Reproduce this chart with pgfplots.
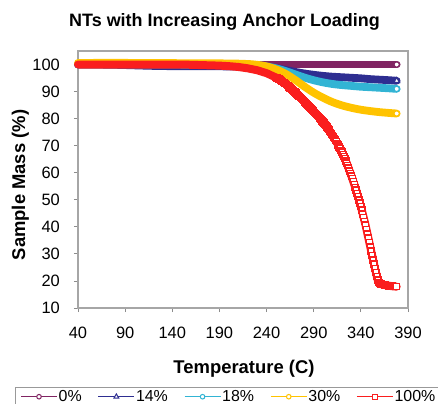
\documentclass[border=0pt]{standalone}
\usepackage{fontspec}
\setmainfont{Liberation Sans}
\usepackage{pgfplots}
\pgfplotsset{compat=1.18}
\usepackage{pgfplotstable}

\definecolor{cA}{RGB}{128,36,98}
\definecolor{cB}{RGB}{46,46,145}
\definecolor{cC}{RGB}{50,180,212}
\definecolor{cD}{RGB}{255,195,0}
\definecolor{cE}{RGB}{250,30,30}

\pgfplotstableread{
T M
40 100
100 100
160 100
220 100
280 100
340 100
378 100
}\tzero

\pgfplotstableread{
T M
40 100
60 100
80 99.9
100 99.7
120 99.5
140 99.4
160 99.4
180 99.4
200 99.3
220 99.3
230 99.2
240 99.0
250 98.6
260 98.0
270 97.3
280 96.7
290 96.2
300 95.8
310 95.5
320 95.3
330 95.1
340 94.9
350 94.6
360 94.4
370 94.2
378 94.0
}\tfourteen

\pgfplotstableread{
T M
40 100
120 100
200 99.9
230 99.7
240 99.3
250 98.6
260 97.6
270 96.4
280 95.2
290 94.2
300 93.4
310 92.8
320 92.4
330 92.1
340 91.8
350 91.6
360 91.4
370 91.2
378 91.0
}\teighteen

\pgfplotstableread{
T M
40 100.6
100 100.6
150 100.5
200 100.4
220 100.2
230 99.9
240 99.3
250 98.2
260 96.6
270 94.4
280 91.9
290 89.6
300 87.7
310 86.1
320 84.9
330 84.0
340 83.3
350 82.8
360 82.4
370 82.1
378 81.9
}\tthirty

\pgfplotstableread{
T M
40 100
100 100
150 100
160 99.9
180 99.7
190 99.6
200 99.4
210 99.1
220 98.6
230 97.9
240 96.8
250 95.2
251 95.0
252 94.8
253 94.6
254 94.4
255 94.2
256 93.9
257 93.7
258 93.4
259 93.2
260 92.9
261 92.6
262 92.3
263 92.0
264 91.7
265 91.4
266 91.1
267 90.7
268 90.4
269 90.1
270 89.8
271 89.5
272 89.1
273 88.8
274 88.4
275 88.1
276 87.8
277 87.4
278 87.1
279 86.7
280 86.4
281 86.0
282 85.6
283 85.3
284 84.9
285 84.5
286 84.1
287 83.8
288 83.4
289 83.0
290 82.6
291 82.2
292 81.9
293 81.5
294 81.2
295 80.8
296 80.3
297 79.9
298 79.5
299 79.2
300 78.8
301 78.3
302 77.8
303 77.4
304 76.9
305 76.4
306 75.9
307 75.4
308 74.9
309 74.4
310 73.8
311 73.2
312 72.6
313 72.1
314 71.5
315 70.9
316 70.3
317 69.6
318 69.0
319 68.3
320 67.6
321 66.8
322 66.0
323 65.2
324 64.4
325 63.6
326 62.6
327 61.7
328 60.7
329 59.8
330 58.8
331 57.8
332 56.7
333 55.7
334 54.6
335 53.6
336 52.4
337 51.2
338 50.0
339 48.8
340 47.6
341 46.2
342 44.8
343 43.4
344 42.0
345 40.6
346 39.0
347 37.4
348 35.8
349 34.2
350 32.6
351 31.0
352 29.4
353 27.8
354 26.2
355 24.6
356 23.2
357 21.6
358 20.3
359 19.5
360 19.1
361 18.9
362 18.8
363 18.7
364 18.6
365 18.5
366 18.5
367 18.4
368 18.4
369 18.3
370 18.2
371 18.2
372 18.1
373 18.1
374 18.0
375 18.0
376 18.0
377 17.9
378 17.9
}\thundred

\begin{document}
\begin{tikzpicture}
\path[use as bounding box] (-78bp,-96bp) rectangle (360bp,308bp);
\begin{axis}[
  scale only axis, width=330bp, height=257bp,
  at={(0,0)}, anchor=south west,
  xmin=40, xmax=390, ymin=10, ymax=105,
  xtick={40,90,...,390}, ytick={10,20,...,100},
  tick pos=left, tick align=outside, major tick length=4bp,
  axis line style={draw=black!35, line width=1.2bp},
  every tick/.style={draw=black!45, line width=0.8bp},
  ticklabel style={font=\fontsize{16.5}{18}\selectfont},
  /pgf/number format/assume math mode=true,
  xticklabel style={anchor=base, yshift=-26bp, inner sep=0pt},
  yticklabel style={anchor=east, xshift=-14bp, inner sep=0pt},
  xlabel={Temperature (C)},
  ylabel={Sample Mass (\%)},
  xlabel style={at={(axis description cs:0.503,-0.254)}, anchor=base, font=\fontsize{18.5}{20}\selectfont\bfseries},
  ylabel style={at={(axis description cs:-0.1606,0.4786)}, anchor=base, rotate=0, font=\fontsize{18.5}{20}\selectfont\bfseries},
  clip=false,
  legend columns=5,
  legend style={at={(axis description cs:-0.191,-0.3074)}, anchor=north west,
    draw=black!40, line width=0.8bp, inner xsep=5bp, inner ysep=1.5bp,
    font=\fontsize{16}{18}\selectfont,
    nodes={inner xsep=1bp, inner ysep=1.5bp},
    /tikz/every even column/.append style={column sep=15bp}},
  legend image code/.code={\draw[mark repeat=2,mark phase=2,line width=1.3bp] plot coordinates {(0bp,0bp) (18bp,0bp) (36bp,0bp)};},
]
\addplot[forget plot, cA, line width=7.8bp, line cap=round, line join=round, smooth] table[x=T,y=M] {\tzero};
\addplot[forget plot, cB, line width=7.8bp, line cap=round, line join=round, smooth] table[x=T,y=M] {\tfourteen};
\addplot[forget plot, cC, line width=7.8bp, line cap=round, line join=round, smooth] table[x=T,y=M] {\teighteen};
\addplot[forget plot, cD, line width=7.8bp, line cap=round, line join=round, smooth] table[x=T,y=M] {\tthirty};
\addplot[forget plot, cE, line width=8bp, line cap=round, line join=round] table[x=T,y=M] {\thundred};
\addplot[forget plot, cE, only marks, mark=square*, mark size=3bp, mark options={fill=white, draw=cE, line width=1.5bp}, restrict x to domain=250:378] table[x=T,y=M] {\thundred};
\addplot[forget plot, cA, only marks, mark=*, mark size=2.7bp, mark options={fill=white, line width=1.2bp}] coordinates {(378,100)};
\addplot[forget plot, cB, only marks, mark=triangle*, mark size=3.3bp, mark options={fill=white, line width=1.2bp}] coordinates {(378,94.0)};
\addplot[forget plot, cC, only marks, mark=*, mark size=2.7bp, mark options={fill=white, line width=1.2bp}] coordinates {(378,91.0)};
\addplot[forget plot, cD, only marks, mark=*, mark size=2.7bp, mark options={fill=white, line width=1.2bp}] coordinates {(378,81.9)};
\addlegendimage{cA, mark=*, mark options={fill=white, mark size=2.3bp, line width=1bp}}
\addlegendimage{cB, mark=triangle*, mark options={fill=white, mark size=2.8bp, line width=1bp}}
\addlegendimage{cC, mark=*, mark options={fill=white, mark size=2.3bp, line width=1bp}}
\addlegendimage{cD, mark=*, mark options={fill=white, mark size=2.3bp, line width=1bp}}
\addlegendimage{cE, mark=square*, mark options={fill=white, mark size=2.3bp, line width=1bp}}
\legend{0\%,14\%,18\%,30\%,100\%}
\end{axis}
\node[anchor=base, font=\fontsize{18}{20}\selectfont\bfseries] at (146.5bp,281bp) {NTs with Increasing Anchor Loading};
\end{tikzpicture}
\end{document}
